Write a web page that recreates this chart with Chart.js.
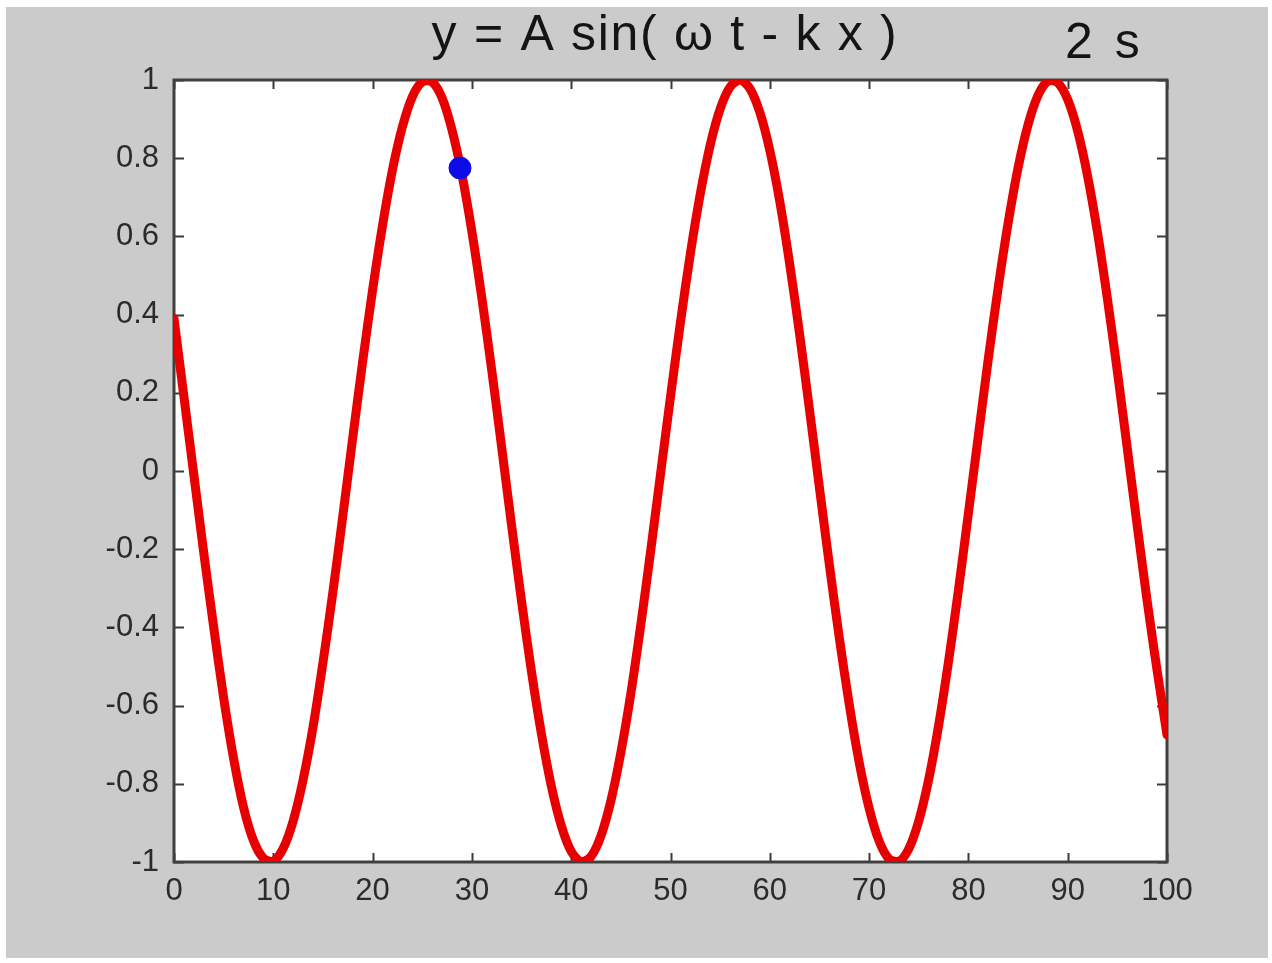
<!DOCTYPE html>
<html>
<head>
<meta charset="utf-8">
<script src="https://cdn.jsdelivr.net/npm/chart.js@4.4.1/dist/chart.umd.min.js"></script>
<style>
  html, body { margin: 0; padding: 0; background: #fff; }
  .frame {
    position: absolute;
    left: 6px;
    top: 7px;
    width: 1262px;
    height: 951px;
    background: #cbcbcb;
  }
</style>
</head>
<body>
<div class="frame"><canvas id="chart" width="1262" height="951"></canvas></div>
<script>
// wave position x (0..100) and displacement y
const xValues = [
  0, 1, 2, 3, 4, 5, 6, 7, 8, 9,
  10, 11, 12, 13, 14, 15, 16, 17, 18, 19,
  20, 21, 22, 23, 24, 25, 26, 27, 28, 29,
  30, 31, 32, 33, 34, 35, 36, 37, 38, 39,
  40, 41, 42, 43, 44, 45, 46, 47, 48, 49,
  50, 51, 52, 53, 54, 55, 56, 57, 58, 59,
  60, 61, 62, 63, 64, 65, 66, 67, 68, 69,
  70, 71, 72, 73, 74, 75, 76, 77, 78, 79,
  80, 81, 82, 83, 84, 85, 86, 87, 88, 89,
  90, 91, 92, 93, 94, 95, 96, 97, 98, 99,
  100
];
const yValues = [
  0.39, 0.19, -0.01, -0.21, -0.4, -0.58, -0.735, -0.86, -0.945, -0.99,
  -0.998, -0.965, -0.895, -0.79, -0.655, -0.49, -0.31, -0.115, 0.085, 0.28,
  0.463, 0.628, 0.77, 0.88, 0.957, 0.995, 0.995, 0.954, 0.872, 0.758,
  0.612, 0.443, 0.257, 0.06, -0.14, -0.333, -0.513, -0.672, -0.806, -0.907,
  -0.973, -0.999, -0.986, -0.933, -0.843, -0.72, -0.57, -0.395, -0.205, -0.007,
  0.19, 0.38, 0.556, 0.709, 0.834, 0.926, 0.982, 1.0, 0.978, 0.917,
  0.82, 0.69, 0.53, 0.35, 0.156, -0.043, -0.24, -0.427, -0.597, -0.745,
  -0.862, -0.946, -0.992, -0.999, -0.966, -0.895, -0.789, -0.651, -0.487, -0.304,
  -0.108, 0.09, 0.286, 0.469, 0.634, 0.775, 0.885, 0.96, 0.997, 0.993,
  0.95, 0.87, 0.755, 0.61, 0.44, 0.255, 0.058, -0.14, -0.332, -0.51,
  -0.675
];
// the tracked particle (blue dot)
const dotX = [28.8];
const dotY = [0.775];

const xTicks = [0, 10, 20, 30, 40, 50, 60, 70, 80, 90, 100];
const yTicks = [-1, -0.8, -0.6, -0.4, -0.2, 0, 0.2, 0.4, 0.6, 0.8, 1];

const titleText = "y = A sin( \u03c9 t - k x )";
const timeText = "2 s";

const tickFont = "'Liberation Sans', Arial, sans-serif";

// matlab style axes box, inward ticks on all four sides, title texts
const matlabAxes = {
  id: "matlabAxes",
  beforeDatasetsDraw(chart) {
    const c = chart.ctx;
    const a = chart.chartArea;
    const xs = chart.scales.x;
    const ys = chart.scales.y;
    c.save();
    c.fillStyle = "#ffffff";
    c.fillRect(a.left, a.top, a.right - a.left, a.bottom - a.top);
    c.strokeStyle = "#3a3a3a";
    c.lineWidth = 2;
    c.beginPath();
    xTicks.forEach((t) => {
      const px = Math.round(xs.getPixelForValue(t)) + 0.5;
      c.moveTo(px, a.bottom);
      c.lineTo(px, a.bottom - 9);
      c.moveTo(px, a.top);
      c.lineTo(px, a.top + 9);
    });
    yTicks.forEach((t) => {
      const py = Math.round(ys.getPixelForValue(t)) + 0.5;
      c.moveTo(a.left, py);
      c.lineTo(a.left + 10, py);
      c.moveTo(a.right, py);
      c.lineTo(a.right - 10, py);
    });
    c.stroke();
    c.strokeStyle = "#404040";
    c.lineWidth = 3;
    c.strokeRect(a.left, a.top, a.right - a.left, a.bottom - a.top);
    c.restore();
  },
  afterDraw(chart) {
    const c = chart.ctx;
    c.save();
    c.fillStyle = "#141414";
    c.textBaseline = "alphabetic";
    c.font = "50px 'Liberation Sans', Arial, sans-serif";
    c.letterSpacing = "1.7px";
    c.textAlign = "center";
    c.fillText(titleText, 659, 43);
    c.textAlign = "left";
    c.letterSpacing = "4px";
    c.fillText(timeText, 1059, 51);
    c.restore();
  },
};

const ctx = document.getElementById("chart");

const chart = new Chart(ctx, {
  type: "scatter",
  plugins: [matlabAxes],
  data: {
    datasets: [
      {
        data: dotX.map((x, i) => ({ x: x, y: dotY[i] })),
        backgroundColor: "rgb(12,12,235)",
        borderColor: "rgb(12,12,235)",
        pointRadius: 11,
        order: 0,
      },
      {
        data: xValues.map((x, i) => ({ x: x, y: yValues[i] })),
        showLine: true,
        borderColor: "rgb(232,0,0)",
        borderWidth: 9,
        pointRadius: 0,
        tension: 0.3,
        borderJoinStyle: "round",
        borderCapStyle: "round",
        order: 1,
      },
    ],
  },
  options: {
    responsive: false,
    animation: false,
    events: [],
    layout: {
      padding: { left: 0, top: 73, right: 101, bottom: 0 },
    },
    plugins: {
      legend: { display: false },
      tooltip: { enabled: false },
      title: { display: false },
    },
    scales: {
      x: {
        type: "linear",
        min: 0,
        max: 100,
        afterBuildTicks: (scale) => {
          scale.ticks = xTicks.map((v) => ({ value: v }));
        },
        afterFit: (scale) => {
          scale.height = 96;
        },
        grid: { display: false },
        border: { display: false },
        ticks: {
          color: "#2b2b2b",
          padding: 3,
          maxRotation: 0,
          autoSkip: false,
          font: { family: tickFont, size: 31 },
        },
      },
      y: {
        type: "linear",
        min: -1,
        max: 1,
        afterBuildTicks: (scale) => {
          scale.ticks = yTicks.map((v) => ({ value: v }));
        },
        afterFit: (scale) => {
          scale.width = 168;
        },
        grid: { display: false },
        border: { display: false },
        ticks: {
          color: "#2b2b2b",
          padding: 7,
          autoSkip: false,
          font: { family: tickFont, size: 31 },
          callback: (v) => String(v),
        },
      },
    },
  },
});
</script>
</body>
</html>
